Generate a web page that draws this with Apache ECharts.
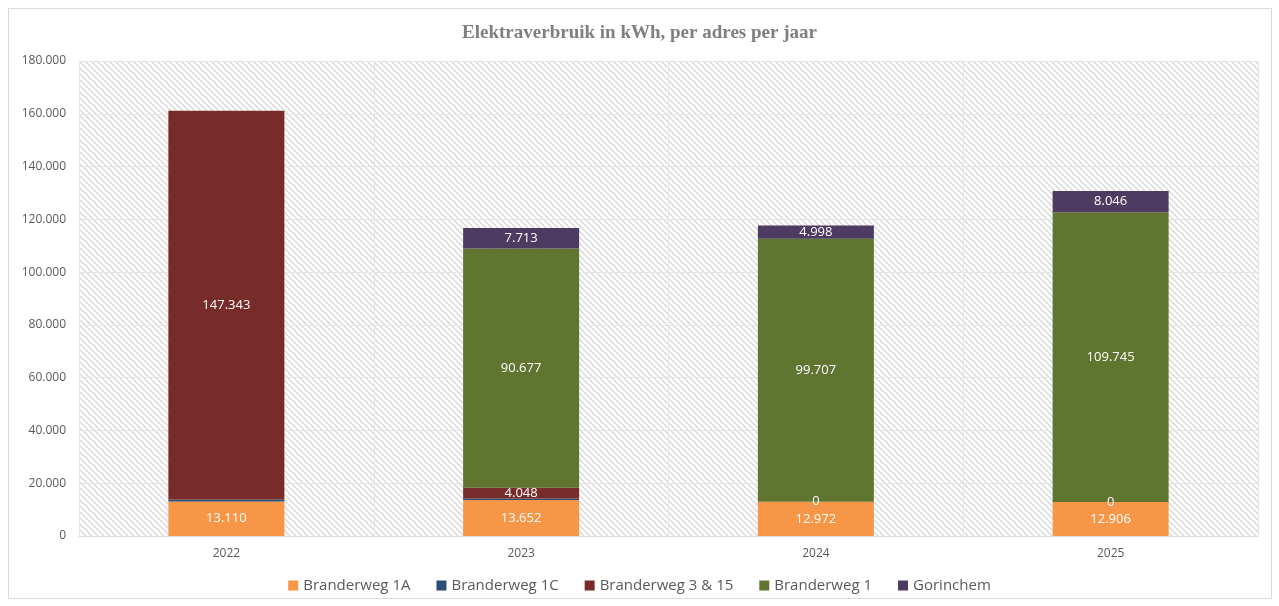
<!DOCTYPE html>
<html>
<head>
<meta charset="utf-8">
<script src="https://cdn.jsdelivr.net/npm/echarts@6/dist/echarts.min.js"></script>
<style>
  html, body { margin: 0; padding: 0; background: #fff; }
  #main { width: 1279px; height: 606px; }
  #frame { position: absolute; left: 8px; top: 8px; width: 1262px; height: 589px; border: 1px solid #d9d9d9; pointer-events: none; }
</style>
</head>
<body>
<div id="main"></div>
<div id="frame"></div>
<script>
var years = ["2022", "2023", "2024", "2025"];
var branderweg1A = [13110, 13652, 12972, 12906];
var branderweg1C = [700, 600, null, null];
var branderweg315 = [147343, 4048, 0, 0];
var branderweg1 = [null, 90677, 99707, 109745];
var gorinchem = [null, 7713, 4998, 8046];
var yTicks = [0, 20000, 40000, 60000, 80000, 100000, 120000, 140000, 160000, 180000];

// hatched plot background
var hatch = document.createElement("canvas");
hatch.width = 6;
hatch.height = 6;
var hc = hatch.getContext("2d");
hc.fillStyle = "#ffffff";
hc.fillRect(0, 0, 6, 6);
hc.strokeStyle = "#d6d6d6";
hc.lineWidth = 1.3;
hc.beginPath();
hc.moveTo(-1, -1); hc.lineTo(7, 7);
hc.moveTo(-4, 2); hc.lineTo(4, 10);
hc.moveTo(2, -4); hc.lineTo(10, 4);
hc.stroke();

function fmt(v) {
  return String(v).replace(/\B(?=(\d{3})+(?!\d))/g, ".");
}

var chartDom = document.getElementById("main");
var myChart = echarts.init(chartDom);
var option;

var lbl = {
  show: true,
  color: "#ffffff",
  fontSize: 13,
  fontFamily: "Open Sans",
  formatter: function (p) { return p.value == null ? "" : fmt(p.value); }
};

function bar(name, data, color, label) {
  return {
    name: name,
    type: "bar",
    stack: "total",
    barWidth: 116,
    data: data,
    itemStyle: { color: color },
    label: label || { show: false }
  };
}

option = {
  animation: false,
  title: {
    text: "Elektraverbruik in kWh, per adres per jaar",
    left: "center",
    top: 19,
    textStyle: { fontFamily: "Liberation Serif", fontWeight: "bold", fontSize: 19, color: "#7f7f7f" }
  },
  legend: {
    bottom: 8,
    itemWidth: 10,
    itemHeight: 10,
    itemGap: 26,
    icon: "rect",
    textStyle: { fontSize: 15, color: "#595959", fontFamily: "Open Sans" },
    data: ["Branderweg 1A", "Branderweg 1C", "Branderweg 3 & 15", "Branderweg 1", "Gorinchem"]
  },
  grid: {
    left: 79,
    right: 21,
    top: 61,
    bottom: 70,
    show: true,
    borderWidth: 0,
    backgroundColor: { image: hatch, repeat: "repeat" }
  },
  xAxis: {
    type: "category",
    data: years,
    axisLine: { lineStyle: { color: "#d9d9d9" } },
    axisTick: { show: false },
    axisLabel: { color: "#595959", fontSize: 12, margin: 12, fontFamily: "Open Sans" },
    splitLine: { show: true, interval: 0, lineStyle: { color: "#e6e6e6", width: 1 } }
  },
  yAxis: {
    type: "value",
    min: yTicks[0],
    max: yTicks[yTicks.length - 1],
    interval: 20000,
    axisLine: { show: false },
    axisTick: { show: false },
    axisLabel: { color: "#595959", fontSize: 12, margin: 13, fontFamily: "Open Sans", formatter: fmt },
    splitLine: { lineStyle: { color: "#e6e6e6", width: 1 } }
  },
  series: [
    bar("Branderweg 1A", branderweg1A, "#f79646", lbl),
    bar("Branderweg 1C", branderweg1C, "#2c4d75"),
    bar("Branderweg 3 & 15", branderweg315, "#772c2a", Object.assign({}, lbl, { position: "inside" })),
    bar("Branderweg 1", branderweg1, "#5f7530", lbl),
    bar("Gorinchem", gorinchem, "#4d3b62", lbl)
  ]
};

option && myChart.setOption(option);
</script>
</body>
</html>
